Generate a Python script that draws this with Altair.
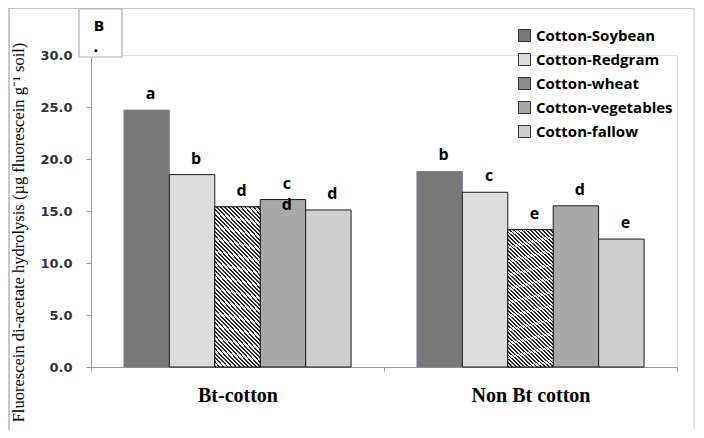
import altair as alt
import pandas as pd

groups = ["Bt-cotton", "Non Bt cotton"]
series = ["Cotton-Soybean", "Cotton-Redgram", "Cotton-wheat", "Cotton-vegetables", "Cotton-fallow"]
bt_values = [24.7, 18.5, 15.4, 16.1, 15.1]
nonbt_values = [18.8, 16.8, 13.2, 15.5, 12.3]
bt_letters = ["a", "b", "d", "c\nd", "d"]
nonbt_letters = ["b", "c", "e", "d", "e"]
series_colors = ["#787878", "#dcdcdc", "#8c8c8c", "#a8a8a8", "#cfcfcf"]
y_ticks = [0, 5, 10, 15, 20, 25, 30]

rows = []
for g, vals, lets in [(groups[0], bt_values, bt_letters), (groups[1], nonbt_values, nonbt_letters)]:
    for s, v, l in zip(series, vals, lets):
        rows.append({"group": g, "series": s, "value": v, "letter": l})
df = pd.DataFrame(rows)

# diagonal stripe gradient for the hatched series
N = 48
stops = []
for i in range(N):
    a = i / N
    m = (i + 0.45) / N
    b = (i + 1) / N
    stops += [
        alt.GradientStop(color="#2b2b2b", offset=a),
        alt.GradientStop(color="#2b2b2b", offset=m),
        alt.GradientStop(color="#f4f4f4", offset=m),
        alt.GradientStop(color="#f4f4f4", offset=b),
    ]
stripe = alt.Gradient(gradient="linear", stops=stops, x1=0, y1=1, x2=0.362, y2=-0.194)

x_enc = alt.X(
    "group:N",
    scale=alt.Scale(domain=groups, paddingInner=0, paddingOuter=0),
    axis=alt.Axis(
        title=None, labelAngle=0, labelFont="Liberation Serif", labelFontWeight="bold",
        labelFontSize=20, labelColor="black", tickBand="extent", ticks=True, tickSize=4,
        tickColor="#999999", domainColor="#999999", labelPadding=14,
    ),
)
xo_enc = alt.XOffset("series:N", scale=alt.Scale(domain=series, paddingInner=0, paddingOuter=0.725))
y_enc = alt.Y(
    "value:Q",
    scale=alt.Scale(domain=[0, 30], nice=False),
    axis=alt.Axis(
        values=y_ticks, format=".1f", grid=False,
        labelFont="DejaVu Sans", labelFontWeight="bold", labelFontSize=13, labelColor="#333333",
        labelPadding=14, tickSize=5, tickColor="#999999", domainColor="#999999",
        title="Fluorescein di-acetate hydrolysis (\u00b5g fluorescein g\u207b\u00b9 soil)",
        titleFont="Liberation Serif", titleFontSize=16.5, titleFontWeight="normal", titleColor="black",
        titleAngle=270, titleX=-73, titleY=177, titleAlign="center", titleBaseline="middle",
    ),
)

base = alt.Chart(df)

bars = base.mark_bar(strokeWidth=1).encode(
    x=x_enc,
    xOffset=xo_enc,
    y=y_enc,
    fill=alt.Fill(
        "series:N",
        scale=alt.Scale(domain=series, range=series_colors),
        legend=alt.Legend(
            title=None, orient="none", legendX=426, legendY=-27, symbolType="square",
            symbolSize=144, symbolStrokeColor="#333333", symbolStrokeWidth=1,
            labelFont="Open Sans", labelFontWeight="bold", labelFontSize=15, labelColor="black",
            rowPadding=7, labelOffset=4, padding=0, symbolOpacity=1,
        ),
    ),
    stroke=alt.condition(alt.datum.series == series[0], alt.value("#7a8499"), alt.value("#1a1a1a")),
)

hatch = base.transform_filter(alt.datum.series == series[2]).mark_bar(
    fill=stripe, stroke="#1a1a1a", strokeWidth=1
).encode(x=x_enc, xOffset=xo_enc, y=y_enc)

letters = base.mark_text(
    baseline="alphabetic", dy=-11, dx=4, lineBreak="\n", lineHeight=21,
    font="Open Sans", fontWeight="bold", fontSize=16, color="black",
).encode(x=x_enc, xOffset=xo_enc, y=y_enc, text="letter:N")

deco_df = pd.DataFrame({"k": [0]})
deco = alt.Chart(deco_df)
frame_left = deco.mark_rule(color="#b5b5b5", strokeWidth=1.5).encode(
    x=alt.value(-82), y=alt.value(-47), y2=alt.value(380))
frame_top = deco.mark_rule(color="#b5b5b5", strokeWidth=1.5).encode(
    x=alt.value(-82), x2=alt.value(603), y=alt.value(-47))
frame_right = deco.mark_rule(color="#d0d0d0", strokeWidth=1).encode(
    x=alt.value(603), y=alt.value(-47), y2=alt.value(380))
b_box = deco.mark_rect(fill="white", stroke="#b0b0b0", strokeWidth=1.2).encode(
    x=alt.value(-12), x2=alt.value(31), y=alt.value(-46), y2=alt.value(2))
b_text = deco.mark_text(font="DejaVu Sans", fontWeight="bold", fontSize=14, color="black").encode(
    x=alt.value(8), y=alt.value(-28), text=alt.value("B"))
b_dot = deco.mark_text(font="DejaVu Sans", fontWeight="bold", fontSize=14, color="black").encode(
    x=alt.value(5), y=alt.value(-7), text=alt.value("."))

chart = alt.layer(
    frame_left, frame_top, frame_right, bars, hatch, letters, b_box, b_text, b_dot
).properties(
    width=586, height=312,
    autosize=alt.AutoSizeParams(type="none"),
    padding={"left": 83, "top": 47, "right": 18, "bottom": 63},
).configure_view(stroke=None).configure(background="white")

chart.save("out.html", embed_options={"renderer": "svg", "actions": False})
